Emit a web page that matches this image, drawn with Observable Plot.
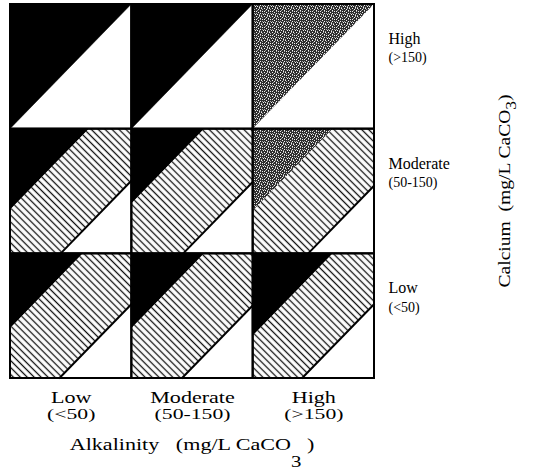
<!DOCTYPE html>
<html>
<head>
<meta charset="utf-8">
<script src="https://cdn.jsdelivr.net/npm/d3@7"></script>
<script src="https://cdn.jsdelivr.net/npm/@observablehq/plot@0.6"></script>
<style>
  html, body { margin: 0; padding: 0; background: #fff; }
</style>
</head>
<body>
<div id="chart"></div>
<script>
// Levels along each axis, low to high
const alkalinityLevels = ["Low", "Moderate", "High"];
const alkalinityRanges = ["(<50)", "(50-150)", "(>150)"];
const calciumLevels = ["Low", "Moderate", "High"];
const calciumRanges = ["(<50)", "(50-150)", "(>150)"];

// Rows: calcium Low → High; columns: alkalinity Low → High
// Tone of the upper-left corner of each cell
const cornerTone = [
  ["solid", "solid", "solid"],
  ["solid", "solid", "stipple"],
  ["solid", "solid", "stipple"]
];
// Extent of the hatched band above the diagonal (fraction of a cell)
const bandAbove = [
  [0.40, 0.40, 0.34],
  [0.35, 0.40, 0.34],
  [0.00, 0.00, 0.00]
];
// Extent of the hatched band below the diagonal (fraction of a cell)
const bandBelow = [
  [0.40, 0.41, 0.40],
  [0.41, 0.42, 0.45],
  [0.00, 0.00, 0.00]
];

const serif = "Liberation Serif, Times New Roman, serif";

// Build the polygons of each cell: corner triangle, hatched band, open triangle
const pieces = [];
const cells = [];
const bandEdges = [];
calciumLevels.forEach((_, r) => {
  alkalinityLevels.forEach((_, c) => {
    const up = bandAbove[r][c], dn = bandBelow[r][c], id = `${r}-${c}`;
    cells.push({r, c});
    for (const u of [0, 1 - up]) {
      pieces.push({id: id + "corner", part: cornerTone[r][c], x: c + u, y1: r + u + up, y2: r + 1});
    }
    if (up + dn > 0) {
      const us = [...new Set([0, dn, 1 - up, 1])].sort((a, b) => a - b);
      for (const u of us) {
        pieces.push({id: id + "band", part: "hatch", x: c + u,
          y1: r + Math.max(0, u - dn), y2: r + Math.min(1, u + up)});
      }
      bandEdges.push({x1: c + dn, y1: r, x2: c + 1, y2: r + 1 - dn});
    }
    for (const u of [dn, 1]) {
      pieces.push({id: id + "open", part: "open", x: c + u, y1: r, y2: r + u - dn});
    }
  });
});

const partFill = {solid: "#000", stipple: "url(#stipple)", hatch: "url(#hatch)", open: "#fff"};
const areaFor = (part) => Plot.area(pieces.filter(p => p.part === part), {
  x1: "x", y1: "y1", y2: "y2", z: "id", curve: "linear",
  fill: partFill[part], stroke: part === "solid" ? "#000" : "none", strokeWidth: 0.5
});

const chart = Plot.plot({
  width: 539,
  height: 473,
  marginLeft: 10,
  marginRight: 165,
  marginTop: 4,
  marginBottom: 95,
  style: {background: "#fff", color: "#000"},
  x: {domain: [0, 3], axis: null},
  y: {domain: [0, 3], axis: null},
  marks: [
    areaFor("open"),
    areaFor("solid"),
    areaFor("stipple"),
    areaFor("hatch"),
    Plot.link(bandEdges, {x1: "x1", y1: "y1", x2: "x2", y2: "y2", stroke: "#000", strokeWidth: 2}),
    Plot.rect(cells, {x1: "c", x2: d => d.c + 1, y1: "r", y2: d => d.r + 1,
      fill: "none", stroke: "#000", strokeWidth: 2}),
    // calcium level labels on the right
    Plot.text(calciumLevels, {x: () => 3, y: (d, i) => i + 0.5, text: d => d,
      dx: 14, dy: -28, textAnchor: "start", fontFamily: serif, fontSize: 16, fill: "#000"}),
    Plot.text(calciumRanges, {x: () => 3, y: (d, i) => i + 0.5, text: d => d,
      dx: 14, dy: -9, textAnchor: "start", fontFamily: serif, fontSize: 14, fill: "#000"}),
    // alkalinity level labels underneath
    Plot.text(alkalinityLevels, {x: (d, i) => i + 0.5, y: () => 0, text: d => d,
      dy: 19, textAnchor: "middle", fontFamily: serif, fontSize: 16, fill: "#000",
      className: "wide-main"}),
    Plot.text(alkalinityRanges, {x: (d, i) => i + 0.5, y: () => 0, text: d => d,
      dy: 36, textAnchor: "middle", fontFamily: serif, fontSize: 14, fill: "#000",
      className: "wide-sub"})
  ]
});

const root = d3.select(chart);

// Pattern fills: diagonal hatching and a dark stipple
const defs = root.insert("defs", ":first-child");
const hatch = defs.append("pattern").attr("id", "hatch")
  .attr("patternUnits", "userSpaceOnUse").attr("width", 10).attr("height", 4.9)
  .attr("patternTransform", "rotate(45)");
hatch.append("rect").attr("width", 10).attr("height", 4.9).attr("fill", "#fff");
hatch.append("line").attr("x1", 0).attr("x2", 10).attr("y1", 2.45).attr("y2", 2.45)
  .attr("stroke", "#111").attr("stroke-width", 1.3);

// Irregular speckle tile: '#' light speck, '+' mid speck, '.' dark ground
const speckTile = [
  "#..+.#..",
  "..#...+.",
  ".+..#...",
  "#...+.#.",
  "..#.....",
  "+...#.+.",
  ".#.+...#",
  "...#.+..",
];
const stipple = defs.append("pattern").attr("id", "stipple")
  .attr("patternUnits", "userSpaceOnUse").attr("width", 8).attr("height", 8);
stipple.append("rect").attr("width", 8).attr("height", 8).attr("fill", "#2e2e2e");
speckTile.forEach((row, y) => [...row].forEach((ch, x) => {
  if (ch === ".") return;
  stipple.append("rect").attr("x", x).attr("y", y).attr("width", 1).attr("height", 1)
    .attr("fill", ch === "#" ? "#f2f2f2" : "#a8a8a8");
}));

// Widen the lower labels horizontally
const widen = (sel, k) => sel.each(function () {
  const t = this.getAttribute("transform") || "";
  this.setAttribute("transform", `${t} scale(${k},1)`);
});
widen(root.selectAll(".wide-main text"), 1.38);
widen(root.selectAll(".wide-sub text"), 1.55);

// Axis titles with subscripted formula
const sx = chart.scale("x").apply, sy = chart.scale("y").apply;

const xTitle = root.append("text")
  .attr("transform", `translate(${sx(1.5)},${sy(0) + 72}) scale(1.3,1)`)
  .attr("text-anchor", "middle").attr("font-family", serif).attr("font-size", 17)
  .attr("fill", "#000").attr("xml:space", "preserve");
xTitle.append("tspan").text("Alkalinity   (mg/L CaCO");
xTitle.append("tspan").attr("dy", 17).attr("font-size", 16).text("3");
xTitle.append("tspan").attr("dy", -17).text(" )");

const yTitle = root.append("text")
  .attr("transform", `translate(${sx(3) + 136},${sy(1.5)}) rotate(-90) scale(1.15,1)`)
  .attr("text-anchor", "middle").attr("font-family", serif).attr("font-size", 17)
  .attr("fill", "#000").attr("xml:space", "preserve");
yTitle.append("tspan").text("Calcium  (mg/L CaCO");
yTitle.append("tspan").attr("dy", 6).attr("font-size", 15).text("3");
yTitle.append("tspan").attr("dy", -6).text(")");

document.getElementById("chart").appendChild(chart);
</script>
</body>
</html>
